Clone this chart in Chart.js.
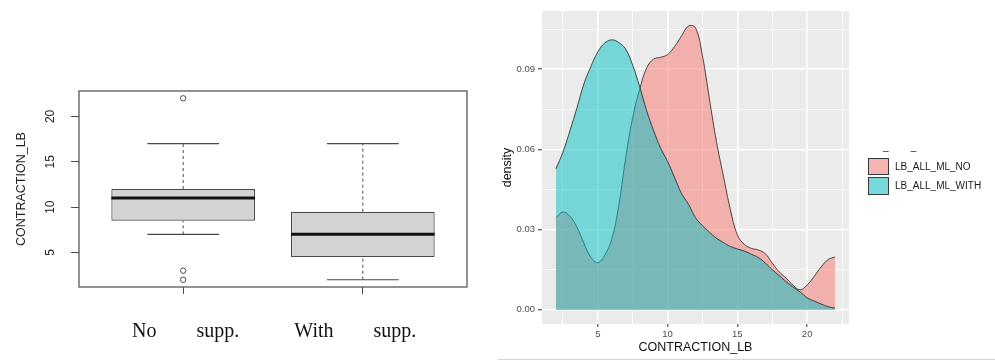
<!DOCTYPE html>
<html>
<head>
<meta charset="utf-8">
<script src="https://cdn.jsdelivr.net/npm/chart.js@4.4.1/dist/chart.umd.min.js"></script>
<style>
  html, body { margin: 0; padding: 0; background: #fff; width: 995px; height: 361px; overflow: hidden; }
  #leftChart { position: absolute; left: 0; top: 0; }
  #rightChart { position: absolute; left: 500px; top: 0; }
  .lg { position: absolute; font-family: "Liberation Sans", Arial, sans-serif; font-size: 10px; line-height: 12px; color: #1a1a1a; white-space: pre; }
  .key { position: absolute; box-sizing: border-box; border: 1px solid #3a3a3a; }
  #rule { position: absolute; left: 498px; top: 359px; width: 497px; height: 1px; background: #d4d4d4; }
</style>
</head>
<body>
<canvas id="leftChart" width="495" height="361"></canvas>
<canvas id="rightChart" width="495" height="361"></canvas>
<div id="legend"></div>
<div id="rule"></div>
<script>
// ---------------- DATA ----------------
// Left: box plot (CONTRACTION_LB by supplementation group)
const groups        = ["No supp.", "With supp."];
const groupPos      = [1, 2];
const boxQ1         = [8.5, 4.5];
const boxMedian     = [11, 7];
const boxQ3         = [12, 9.5];
const whiskerLow    = [7, 2];
const whiskerHigh   = [17, 17];
const outliersNo    = [22, 3, 2];
const outliersWith  = [];
const boxYTicks     = [5, 10, 15, 20];

// Right: density estimate of CONTRACTION_LB
const seriesNames   = ["LB_ALL_ML_NO", "LB_ALL_ML_WITH"];
const densityX      = [2, 2.5, 3, 3.5, 4, 4.5, 5, 5.5, 6, 6.5, 7, 7.5, 8, 8.5, 9, 9.5, 10, 10.5, 11, 11.5, 12,
                       12.5, 13, 13.5, 14, 14.5, 15, 15.5, 16, 16.5, 17, 17.5, 18, 18.5, 19, 19.5, 20, 20.5, 21, 21.5, 22];
const densityNo     = [0.0344, 0.0366, 0.0350, 0.0310, 0.0250, 0.0197, 0.0177, 0.0205, 0.0265, 0.0390, 0.0570,
                       0.0720, 0.0825, 0.0905, 0.0938, 0.0945, 0.0955, 0.0985, 0.1025, 0.1062, 0.1055,
                       0.0950, 0.0788, 0.0630, 0.0500, 0.0375, 0.0280, 0.0245, 0.0230, 0.0224, 0.0210,
                       0.0175, 0.0142, 0.0118, 0.0092, 0.0075, 0.0093, 0.0125, 0.0160, 0.0188, 0.0198];
const densityWith   = [0.0528, 0.0590, 0.0670, 0.0755, 0.0845, 0.0910, 0.0965, 0.0998, 0.1010, 0.1000, 0.0975,
                       0.0915, 0.0835, 0.0745, 0.0670, 0.0605, 0.0555, 0.0495, 0.0435, 0.0395, 0.0345,
                       0.0315, 0.0290, 0.0268, 0.0252, 0.0237, 0.0228, 0.0220, 0.0208, 0.0196, 0.0175,
                       0.0150, 0.0128, 0.0105, 0.0085, 0.0067, 0.0045, 0.0033, 0.0022, 0.0012, 0.0006];
const densityXTicks = [5, 10, 15, 20];
const densityXMinor = [2.5, 7.5, 12.5, 17.5, 22.5];
const densityYTicks = [0, 0.03, 0.06, 0.09];
const densityYMinor = [0.015, 0.045, 0.075, 0.105];

// ---------------- LEFT: BOX PLOT ----------------
const BOX_HALF = 0.4, CAP_HALF = 0.2;
function segments(list) {
  const out = [];
  list.forEach((s, i) => { if (i) out.push({ x: s[0].x, y: null }); out.push(s[0], s[1]); });
  return out;
}
const lineColor = '#4a4a4a';
const xLabelText = [
  ' ' + groups[0].replace(' ', ' '.repeat(8)),
  groups[1].replace(' ', ' '.repeat(8)) + '   '
];

const outlierPts = [];
outliersNo.forEach(v => outlierPts.push({ x: groupPos[0], y: v }));
outliersWith.forEach(v => outlierPts.push({ x: groupPos[1], y: v }));

const plotFrame = {
  id: 'plotFrame',
  afterDatasetsDraw(chart) {
    const { ctx, chartArea: a } = chart;
    ctx.save();
    ctx.strokeStyle = lineColor;
    ctx.lineWidth = 1.2;
    ctx.strokeRect(a.left, a.top, a.right - a.left, a.bottom - a.top);
    ctx.restore();
  }
};

new Chart(document.getElementById('leftChart'), {
  type: 'bar',
  data: {
    datasets: [
      {
        type: 'bar',
        label: 'box',
        data: groupPos.map((x, i) => ({ x: x, y: [boxQ1[i], boxQ3[i]] })),
        backgroundColor: '#d3d3d3',
        borderColor: lineColor,
        borderWidth: 1.2,
        borderSkipped: false,
        barPercentage: 0.8,
        categoryPercentage: 1,
        order: 5
      },
      {
        type: 'line',
        label: 'whiskers',
        data: segments(groupPos.flatMap((x, i) => [
          [{ x: x, y: boxQ3[i] }, { x: x, y: whiskerHigh[i] }],
          [{ x: x, y: whiskerLow[i] }, { x: x, y: boxQ1[i] }]
        ])),
        borderColor: lineColor,
        borderWidth: 1,
        borderDash: [3, 3],
        pointRadius: 0,
        spanGaps: false,
        fill: false,
        order: 4
      },
      {
        type: 'line',
        label: 'caps',
        data: segments(groupPos.flatMap((x, i) => [
          [{ x: x - CAP_HALF, y: whiskerHigh[i] }, { x: x + CAP_HALF, y: whiskerHigh[i] }],
          [{ x: x - CAP_HALF, y: whiskerLow[i] }, { x: x + CAP_HALF, y: whiskerLow[i] }]
        ])),
        borderColor: lineColor,
        borderWidth: 1.2,
        pointRadius: 0,
        spanGaps: false,
        fill: false,
        order: 3
      },
      {
        type: 'line',
        label: 'median',
        data: segments(groupPos.map((x, i) =>
          [{ x: x - BOX_HALF, y: boxMedian[i] }, { x: x + BOX_HALF, y: boxMedian[i] }])),
        borderColor: '#111',
        borderWidth: 3,
        borderCapStyle: 'butt',
        pointRadius: 0,
        spanGaps: false,
        fill: false,
        order: 1
      },
      {
        type: 'scatter',
        label: 'outliers',
        data: outlierPts,
        pointRadius: 2.7,
        pointBorderWidth: 1,
        pointBorderColor: lineColor,
        pointBackgroundColor: 'rgba(0,0,0,0)',
        order: 0
      }
    ]
  },
  options: {
    responsive: false,
    animation: false,
    devicePixelRatio: 1,
    layout: { padding: { left: 0, top: 91, right: 28, bottom: 0 } },
    plugins: { legend: { display: false }, tooltip: { enabled: false } },
    scales: {
      x: {
        type: 'linear', min: 0.42, max: 2.58, offset: false,
        afterBuildTicks: s => { s.ticks = groupPos.map(v => ({ value: v })); },
        afterFit: s => { s.height = 74; },
        grid: { display: true, offset: false, drawOnChartArea: false, drawTicks: true, tickLength: 7, tickColor: lineColor, lineWidth: 1 },
        border: { display: false },
        ticks: {
          autoSkip: false, maxRotation: 0, minRotation: 0, padding: 26, color: '#111',
          font: { family: '"Liberation Serif", "Times New Roman", serif', size: 20 },
          callback: (v, i) => xLabelText[i]
        }
      },
      y: {
        type: 'linear', min: 1.2, max: 22.8,
        afterBuildTicks: s => { s.ticks = boxYTicks.map(v => ({ value: v })); },
        afterFit: s => { s.width = 79; },
        grid: { display: true, drawOnChartArea: false, drawTicks: true, tickLength: 8, tickColor: lineColor },
        border: { display: false },
        ticks: {
          minRotation: 90, maxRotation: 90, crossAlign: 'center', padding: 14, color: '#222',
          font: { family: '"Liberation Sans", Arial, sans-serif', size: 12 }
        },
        title: {
          display: true, text: 'CONTRACTION_LB', color: '#222',
          font: { family: '"Liberation Sans", Arial, sans-serif', size: 12.5 },
          padding: { top: 14, bottom: 0 }
        }
      }
    }
  },
  plugins: [plotFrame]
});

// ---------------- RIGHT: DENSITY PLOT ----------------
const panelBg = {
  id: 'panelBg',
  beforeDraw(chart) {
    const { ctx, chartArea: a } = chart;
    ctx.save();
    ctx.fillStyle = '#ebebeb';
    ctx.fillRect(a.left, a.top, a.right - a.left, a.bottom - a.top);
    ctx.restore();
  }
};
const isMajorX = v => densityXTicks.some(t => Math.abs(t - v) < 1e-9);
const isMajorY = v => densityYTicks.some(t => Math.abs(t - v) < 1e-9);
const sansFont = '"Liberation Sans", Arial, sans-serif';

new Chart(document.getElementById('rightChart'), {
  type: 'line',
  data: {
    datasets: [
      {
        label: seriesNames[0],
        data: densityX.map((x, i) => ({ x: x, y: densityNo[i] })),
        fill: 'origin',
        backgroundColor: 'rgba(248,118,109,0.5)',
        borderColor: 'rgba(25,25,25,0.85)',
        borderWidth: 0.9,
        pointRadius: 0,
        tension: 0.4,
        order: 1
      },
      {
        label: seriesNames[1],
        data: densityX.map((x, i) => ({ x: x, y: densityWith[i] })),
        fill: 'origin',
        backgroundColor: 'rgba(0,191,196,0.5)',
        borderColor: 'rgba(25,25,25,0.85)',
        borderWidth: 0.9,
        pointRadius: 0,
        tension: 0.4,
        order: 0
      }
    ]
  },
  options: {
    responsive: false,
    animation: false,
    devicePixelRatio: 1,
    layout: { padding: { left: 0, top: 11, right: 146, bottom: 0 } },
    plugins: { legend: { display: false }, tooltip: { enabled: false } },
    scales: {
      x: {
        type: 'linear', min: 1, max: 23,
        afterBuildTicks: s => { s.ticks = densityXMinor.concat(densityXTicks).sort((a, b) => a - b).map(v => ({ value: v })); },
        afterFit: s => { s.height = 37; },
        grid: {
          color: '#ffffff',
          lineWidth: c => isMajorX(c.tick.value) ? 1.6 : 0.8,
          drawTicks: true, tickLength: 3, tickWidth: 1,
          tickColor: c => isMajorX(c.tick.value) ? '#333333' : 'rgba(0,0,0,0)'
        },
        border: { display: false },
        ticks: {
          autoSkip: false, maxRotation: 0, padding: 2, color: '#4d4d4d',
          font: { family: sansFont, size: 9.5 },
          callback: v => isMajorX(v) ? String(v) : ''
        },
        title: {
          display: true, text: 'CONTRACTION_LB', color: '#111',
          font: { family: sansFont, size: 12.5 },
          padding: { top: 0, bottom: 5.5 }
        }
      },
      y: {
        type: 'linear', min: -0.0053, max: 0.1118,
        afterBuildTicks: s => { s.ticks = densityYMinor.concat(densityYTicks).sort((a, b) => a - b).map(v => ({ value: v })); },
        afterFit: s => { s.width = 42; },
        grid: {
          color: '#ffffff',
          lineWidth: c => isMajorY(c.tick.value) ? 1.6 : 0.8,
          drawTicks: true, tickLength: 4, tickWidth: 1,
          tickColor: c => isMajorY(c.tick.value) ? '#333333' : 'rgba(0,0,0,0)'
        },
        border: { display: false },
        ticks: {
          autoSkip: false, padding: 3, color: '#4d4d4d',
          font: { family: sansFont, size: 9.5 },
          callback: v => isMajorY(v) ? v.toFixed(2) : ''
        },
        title: {
          display: true, text: 'density', color: '#111',
          font: { family: sansFont, size: 12.5 },
          padding: { top: 0.5, bottom: 0 }
        }
      }
    }
  },
  plugins: [panelBg]
});

// ---------------- LEGEND (right panel) ----------------
const legendFills = ['#f5b4b0', '#79d8db'];
const legendEl = document.getElementById('legend');
let html = '<div class="lg" style="left:883px;top:141px;">_        _</div>';
const keyTops = [158, 176.5], keyHeights = [17, 18.5], textTops = [160.5, 180];
seriesNames.forEach((name, i) => {
  html += '<div class="key" style="left:868px;top:' + keyTops[i] + 'px;width:21px;height:' + keyHeights[i] +
          'px;background:' + legendFills[i] + ';"></div>';
  html += '<div class="lg" style="left:895px;top:' + textTops[i] + 'px;">' + name + '</div>';
});
legendEl.innerHTML = html;
</script>
</body>
</html>
